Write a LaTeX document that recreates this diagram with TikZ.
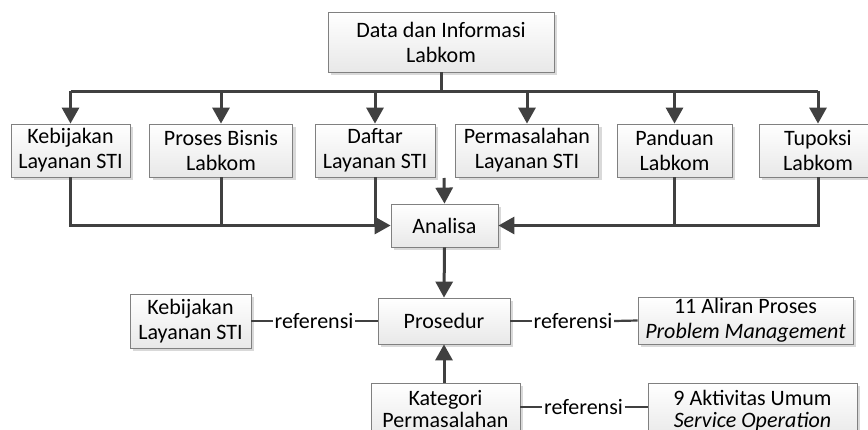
\documentclass[tikz,border=0pt]{standalone}
\usepackage{fontspec}
\setmainfont{Carlito}
\usetikzlibrary{arrows.meta,shadows}
\definecolor{conn}{HTML}{404040}
\definecolor{boxline}{HTML}{808080}
\tikzset{
  box/.style={draw=boxline, line width=0.8pt, top color=white, bottom color=black!9,
    drop shadow={shadow xshift=3pt, shadow yshift=-3pt, fill=black!15, opacity=1},
    inner sep=0pt, align=center, font=\fontsize{22}{25}\selectfont},
  conline/.style={draw=conn, line width=3pt},
  arr/.style={conline, -{Triangle[length=16pt,width=17pt]}},
  refline/.style={draw=conn, line width=2.2pt},
  reflabel/.style={inner sep=1.5pt, font=\fontsize{22}{25}\selectfont}
}
\newcommand{\twolines}[2]{\raisebox{9pt}{\begin{tabular}{@{}c@{}}#1\\[-3pt]#2\end{tabular}}}
\begin{document}
\begin{tikzpicture}[x=1pt,y=-1pt]
\useasboundingbox (0,0) rectangle (868,429);
\clip (0,0) rectangle (868,429);
\fill[white] (0,0) rectangle (868,429);
% nodes
\node[box, minimum width=226pt, minimum height=60pt] (top) at (441,42) {Data dan Informasi\\Labkom};
\node[box, minimum width=119pt, minimum height=53pt] (k1) at (70.5,150.5) {Kebijakan\\Layanan STI};
\node[box, minimum width=143pt, minimum height=53pt] (k2) at (221,150.5) {Proses Bisnis\\Labkom};
\node[box, minimum width=120pt, minimum height=53pt] (k3) at (375,150.5) {Daftar\\Layanan STI};
\node[box, minimum width=143pt, minimum height=53pt] (k4) at (527,150.5) {Permasalahan\\Layanan STI};
\node[box, minimum width=115pt, minimum height=53pt] (k5) at (674.5,150.5) {Panduan\\Labkom};
\node[box, minimum width=118pt, minimum height=53pt] (k6) at (818,150.5) {Tupoksi\\Labkom};
\node[box, minimum width=107pt, minimum height=43pt] (ana) at (444.5,225.5) {Analisa};
\node[box, minimum width=132pt, minimum height=46pt] (pro) at (444,321) {Prosedur};
\node[box, minimum width=121pt, minimum height=54pt] (kebl) at (190.5,321) {Kebijakan\\Layanan STI};
\node[box, minimum width=215pt, minimum height=47pt] (alir) at (745.5,320.5) {11 Aliran Proses\\\textit{Problem Management}};
\node[box, minimum width=149pt, minimum height=56pt] (kat) at (445.5,411) {\twolines{Kategori}{Permasalahan}};
\node[box, minimum width=209pt, minimum height=56pt] (akt) at (752.5,411) {\twolines{9 Aktivitas Umum}{\textit{Service Operation}}};
% bus from top
\coordinate (bus) at (441,91);
\draw[conline] (top.south) -- (top.south |- bus);
\draw[conline] (k1.north |- bus) -- (k6.north |- bus);
\foreach \k in {k1,k2,k3,k4,k5,k6}{
  \draw[arr] (\k.north |- bus) -- (\k.north);
}
% into Analisa
\coordinate (free) at (444,178);
\draw[arr] (free) -- (ana.north);
\draw[arr] (k1.south) |- (ana.west);
\draw[conline] (k2.south) -- (k2.south |- ana.west);
\draw[conline] (k3.south) -- (k3.south |- ana.west);
\draw[arr] (k6.south) |- (ana.east);
\draw[conline] (k5.south) -- (k5.south |- ana.east);
% Analisa -> Prosedur, Kategori -> Prosedur
\draw[arr] (ana.south) -- (pro.north);
\draw[arr] (kat.north -| pro.south) -- (pro.south);
% referensi
\node[reflabel] (r1) at (314,321) {referensi};
\draw[refline] (kebl.east) -- (r1.west);
\draw[refline] (r1.east) -- (pro.west);
\node[reflabel] (r2) at (573,321) {referensi};
\draw[refline] (pro.east) -- (r2.west);
\draw[refline] (r2.east) -- (alir.west);
\node[reflabel] (r3) at (583.5,407) {referensi};
\draw[refline] (kat.east |- r3) -- (r3.west);
\draw[refline] (r3.east) -- (akt.west |- r3);
\end{tikzpicture}
\end{document}
